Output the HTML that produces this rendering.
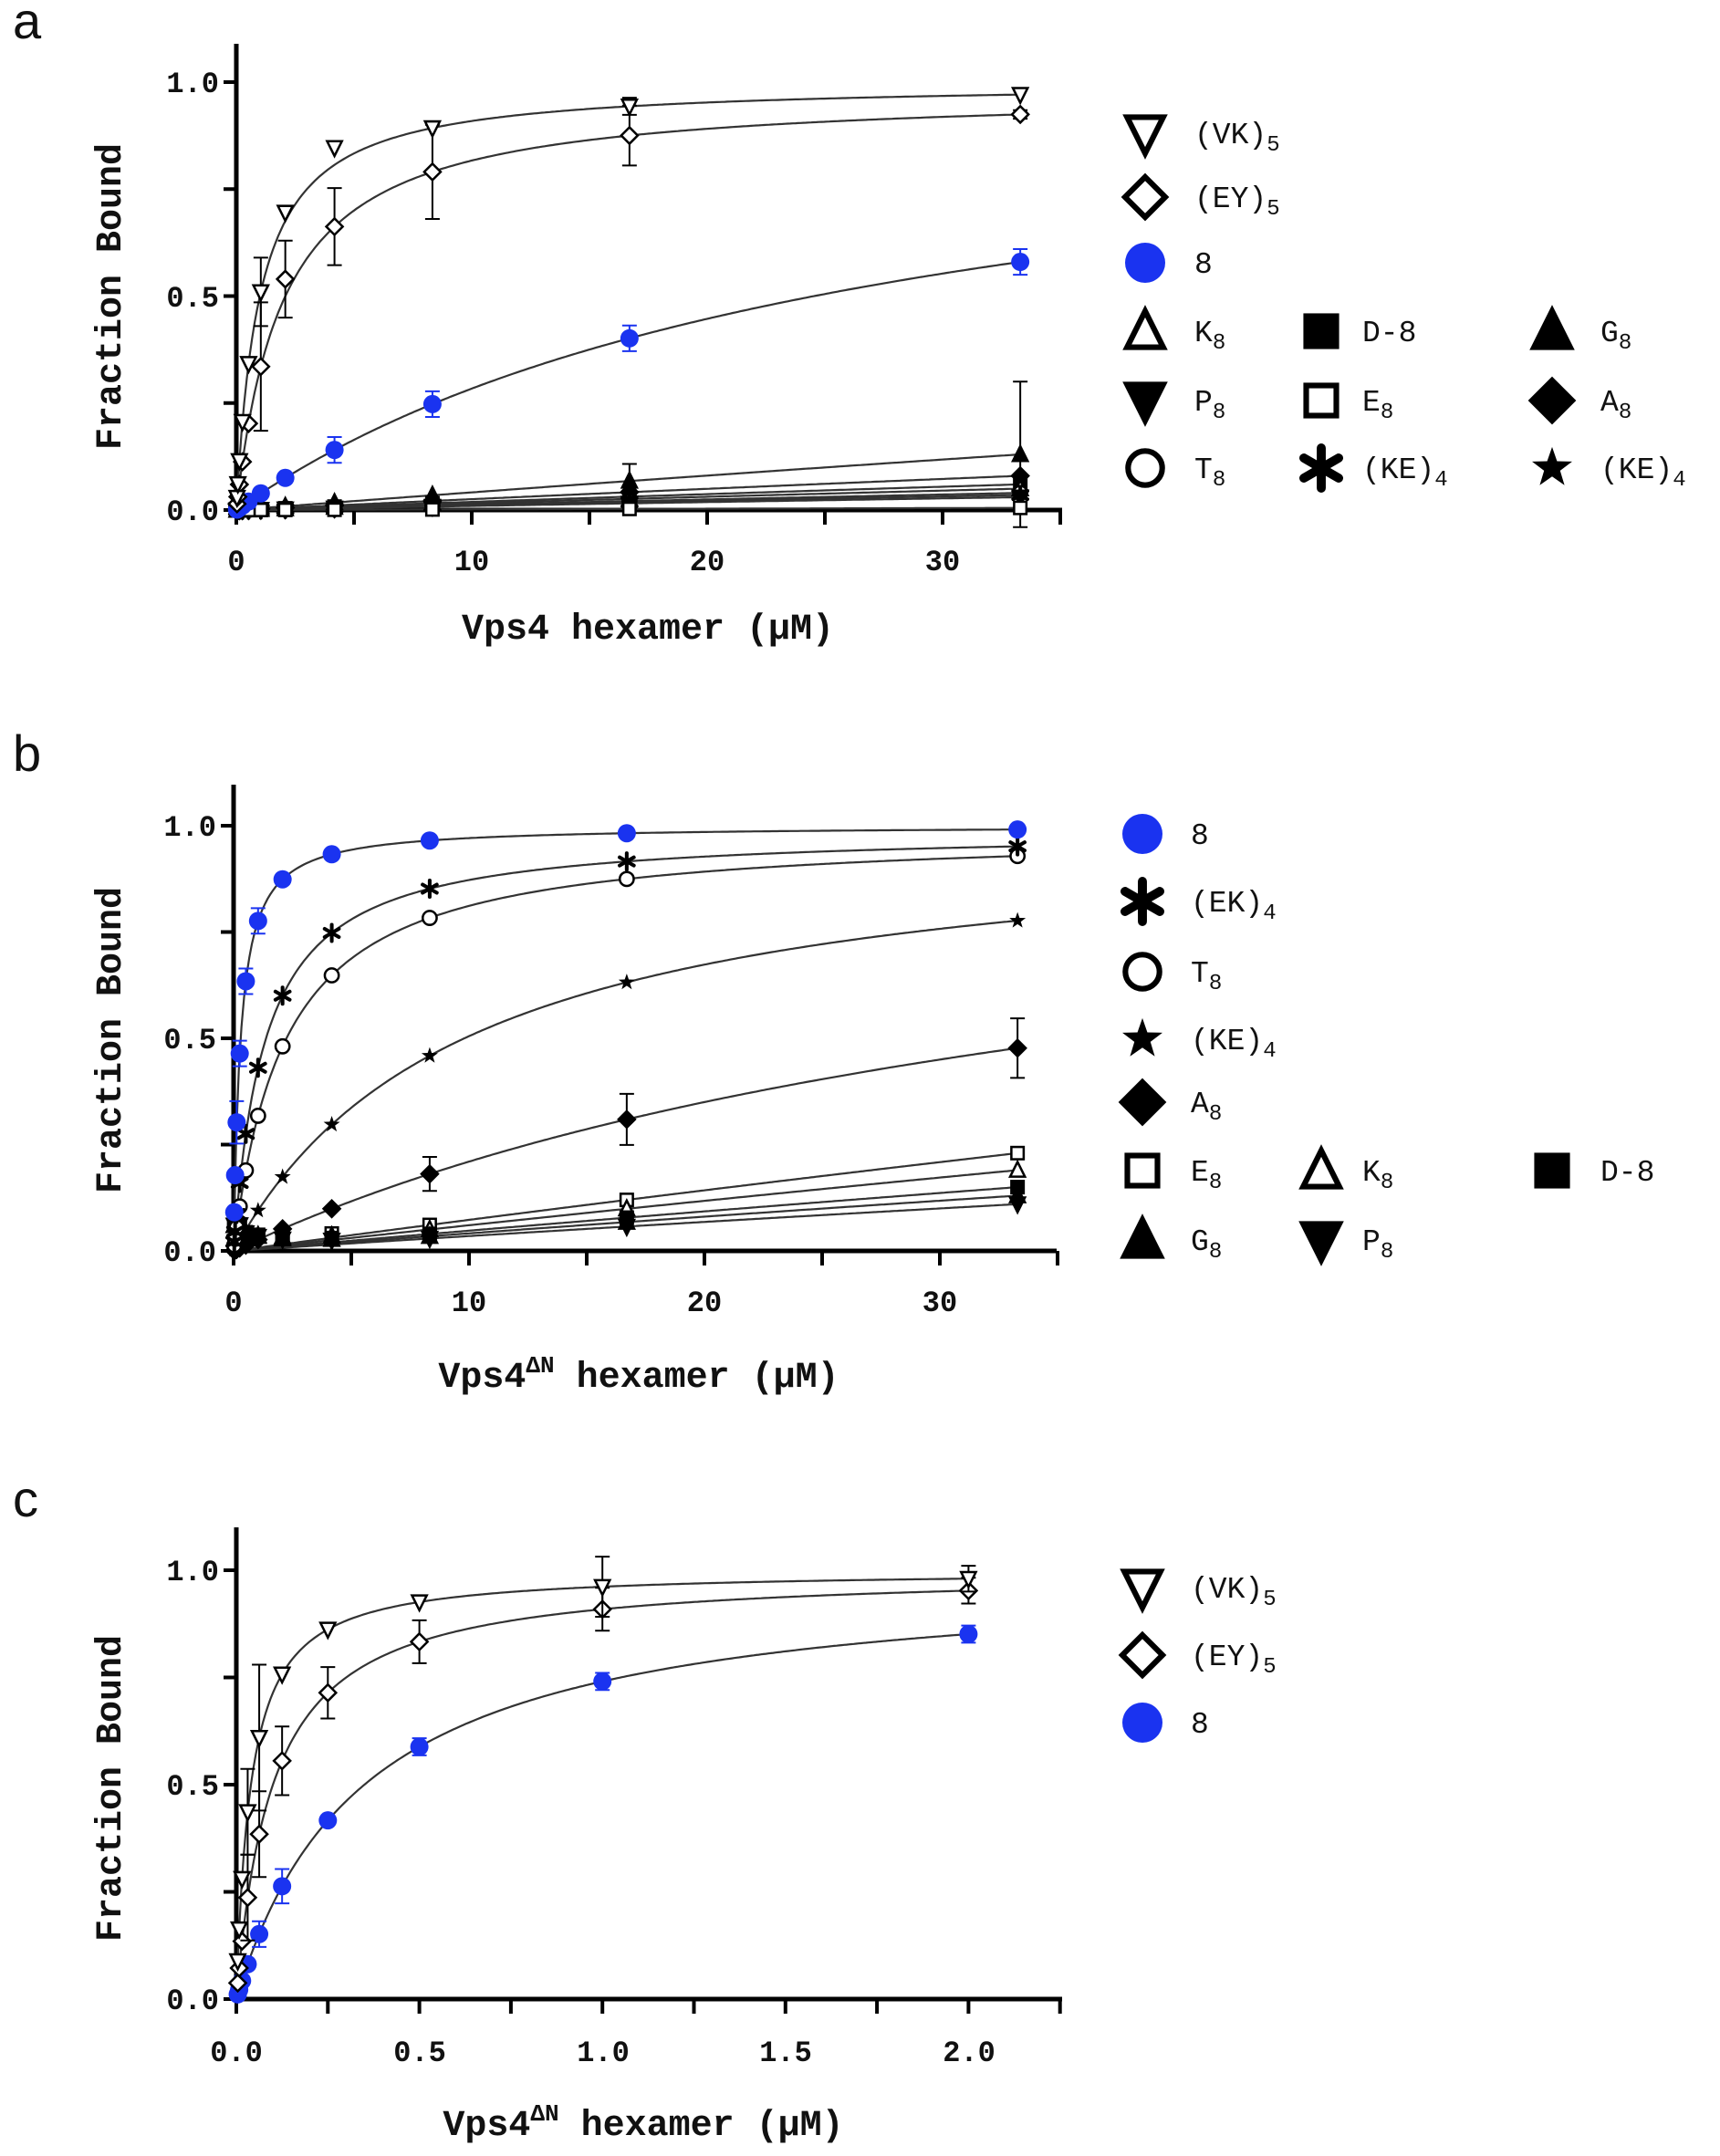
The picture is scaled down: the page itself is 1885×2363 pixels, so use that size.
<!DOCTYPE html>
<html><head><meta charset="utf-8"><style>
body{margin:0;background:#fff}
svg{display:block}
.t{font-family:"Liberation Mono",monospace;font-size:33px;fill:#111}
.tk{font-family:"Liberation Mono",monospace;font-size:32px;font-weight:bold;fill:#111}
.ti{font-family:"Liberation Mono",monospace;font-size:40px;font-weight:bold;fill:#111}
.pl{font-family:"Liberation Sans",sans-serif;font-size:56px;fill:#111}
</style></head><body>
<svg id="s" width="1885" height="2363" viewBox="0 0 1885 2363" xmlns="http://www.w3.org/2000/svg">
<rect width="1885" height="2363" fill="#fff"/>
<text class="pl" x="14" y="42">a</text>
<text class="pl" x="14" y="845">b</text>
<text class="pl" x="14" y="1662">c</text>
<text class="tk" x="240" y="101" text-anchor="end">1.0</text>
<text class="tk" x="240" y="336" text-anchor="end">0.5</text>
<text class="tk" x="240" y="570" text-anchor="end">0.0</text>
<text class="tk" x="259" y="625" text-anchor="middle">0</text>
<text class="tk" x="517" y="625" text-anchor="middle">10</text>
<text class="tk" x="775" y="625" text-anchor="middle">20</text>
<text class="tk" x="1033" y="625" text-anchor="middle">30</text>
<text class="ti" x="710" y="700" text-anchor="middle">Vps4 hexamer (μM)</text>
<text class="ti" transform="translate(132,325) rotate(-90)" text-anchor="middle">Fraction Bound</text>
<text class="tk" x="237" y="916" text-anchor="end">1.0</text>
<text class="tk" x="237" y="1149" text-anchor="end">0.5</text>
<text class="tk" x="237" y="1382" text-anchor="end">0.0</text>
<text class="tk" x="256" y="1437" text-anchor="middle">0</text>
<text class="tk" x="514" y="1437" text-anchor="middle">10</text>
<text class="tk" x="772" y="1437" text-anchor="middle">20</text>
<text class="tk" x="1030" y="1437" text-anchor="middle">30</text>
<text class="ti" x="700" y="1520" text-anchor="middle">Vps4<tspan font-size="26" dy="-16">ΔN</tspan><tspan dy="16"> hexamer (μM)</tspan></text>
<text class="ti" transform="translate(132,1140) rotate(-90)" text-anchor="middle">Fraction Bound</text>
<text class="tk" x="240" y="1732" text-anchor="end">1.0</text>
<text class="tk" x="240" y="1967" text-anchor="end">0.5</text>
<text class="tk" x="240" y="2202" text-anchor="end">0.0</text>
<text class="tk" x="259" y="2259" text-anchor="middle">0.0</text>
<text class="tk" x="460" y="2259" text-anchor="middle">0.5</text>
<text class="tk" x="661" y="2259" text-anchor="middle">1.0</text>
<text class="tk" x="861" y="2259" text-anchor="middle">1.5</text>
<text class="tk" x="1062" y="2259" text-anchor="middle">2.0</text>
<text class="ti" x="705" y="2340" text-anchor="middle">Vps4<tspan font-size="26" dy="-16">ΔN</tspan><tspan dy="16"> hexamer (μM)</tspan></text>
<text class="ti" transform="translate(132,1960) rotate(-90)" text-anchor="middle">Fraction Bound</text>
<g class="t">
<text x="1309" y="157">(VK)<tspan font-size="24" dy="8">5</tspan></text>
<text x="1309" y="227">(EY)<tspan font-size="24" dy="8">5</tspan></text>
<text x="1309" y="299">8</text>
<text x="1309" y="374">K<tspan font-size="24" dy="8">8</tspan></text>
<text x="1309" y="450">P<tspan font-size="24" dy="8">8</tspan></text>
<text x="1309" y="524">T<tspan font-size="24" dy="8">8</tspan></text>
<text x="1493" y="374">D-8</text>
<text x="1493" y="450">E<tspan font-size="24" dy="8">8</tspan></text>
<text x="1493" y="524">(KE)<tspan font-size="24" dy="8">4</tspan></text>
<text x="1754" y="374">G<tspan font-size="24" dy="8">8</tspan></text>
<text x="1754" y="450">A<tspan font-size="24" dy="8">8</tspan></text>
<text x="1754" y="524">(KE)<tspan font-size="24" dy="8">4</tspan></text>
<text x="1305" y="925">8</text>
<text x="1305" y="999">(EK)<tspan font-size="24" dy="8">4</tspan></text>
<text x="1305" y="1076">T<tspan font-size="24" dy="8">8</tspan></text>
<text x="1305" y="1150">(KE)<tspan font-size="24" dy="8">4</tspan></text>
<text x="1305" y="1219">A<tspan font-size="24" dy="8">8</tspan></text>
<text x="1305" y="1294">E<tspan font-size="24" dy="8">8</tspan></text>
<text x="1305" y="1370">G<tspan font-size="24" dy="8">8</tspan></text>
<text x="1493" y="1294">K<tspan font-size="24" dy="8">8</tspan></text>
<text x="1493" y="1370">P<tspan font-size="24" dy="8">8</tspan></text>
<text x="1754" y="1294">D-8</text>
<text x="1305" y="1751">(VK)<tspan font-size="24" dy="8">5</tspan></text>
<text x="1305" y="1825">(EY)<tspan font-size="24" dy="8">5</tspan></text>
<text x="1305" y="1899">8</text>
</g>
<g id="g"></g>
</svg>
<script>
var NS="http://www.w3.org/2000/svg",G=document.getElementById("g");
function el(t,a){var e=document.createElementNS(NS,t);for(var k in a)e.setAttribute(k,a[k]);G.appendChild(e);return e;}
function marker(type,cx,cy,r){
 var sw=Math.max(2.5,r*0.28);
 var blk="#000";
 switch(type){
 case "dot":el("circle",{cx:cx,cy:cy,r:r,fill:"#1a33f0"});break;
 case "circO":el("circle",{cx:cx,cy:cy,r:r*0.85,fill:"#fff",stroke:blk,"stroke-width":sw});break;
 case "triU":case "triUf":el("polygon",{points:(cx)+","+(cy-r)+" "+(cx+r*0.9)+","+(cy+r*0.8)+" "+(cx-r*0.9)+","+(cy+r*0.8),fill:type=="triUf"?blk:"#fff",stroke:blk,"stroke-width":sw});break;
 case "triD":case "triDf":el("polygon",{points:(cx)+","+(cy+r)+" "+(cx+r*0.9)+","+(cy-r*0.8)+" "+(cx-r*0.9)+","+(cy-r*0.8),fill:type=="triDf"?blk:"#fff",stroke:blk,"stroke-width":sw});break;
 case "sq":case "sqf":el("rect",{x:cx-r*0.75,y:cy-r*0.75,width:r*1.5,height:r*1.5,fill:type=="sqf"?blk:"#fff",stroke:blk,"stroke-width":sw});break;
 case "dia":case "diaf":el("polygon",{points:cx+","+(cy-r)+" "+(cx+r)+","+cy+" "+cx+","+(cy+r)+" "+(cx-r)+","+cy,fill:type=="diaf"?blk:"#fff",stroke:blk,"stroke-width":sw});break;
 case "ast":for(var i=0;i<3;i++){var a=i*Math.PI/3+Math.PI/2;el("line",{x1:cx-r*Math.cos(a),y1:cy-r*Math.sin(a),x2:cx+r*Math.cos(a),y2:cy+r*Math.sin(a),stroke:blk,"stroke-width":r*0.45,"stroke-linecap":"round"});}break;
 case "star":var p=[];for(var i=0;i<10;i++){var a=-Math.PI/2+i*Math.PI/5,rr=i%2?r*0.42:r*1.05;p.push((cx+rr*Math.cos(a))+","+(cy+rr*Math.sin(a)));}el("polygon",{points:p.join(" "),fill:blk});break;
 }
}
function axes(P){
 var L=P.x0,B=P.y0;
 el("line",{x1:L,y1:P.top,x2:L,y2:B+3,stroke:"#000","stroke-width":5});
 el("line",{x1:L-3,y1:B,x2:P.right,y2:B,stroke:"#000","stroke-width":5});
 [0,0.25,0.5,0.75,1].forEach(function(v){var y=B-v*(B-P.y1);el("line",{x1:L-14,y1:y,x2:L,y2:y,stroke:"#000","stroke-width":4});});
 P.xt.forEach(function(v){var x=L+v*P.sx;el("line",{x1:x,y1:B,x2:x,y2:B+16,stroke:"#000","stroke-width":4});});
}
function draw(P){
 axes(P);
 var X=function(v){return P.x0+v*P.sx},Y=function(v){return P.y0-v*(P.y0-P.y1)};
 P.series.forEach(function(s){
  var d="";for(var i=0;i<=300;i++){var x=P.xmax*i/300,y=s.B*x/(s.K+x);d+=(i?"L":"M")+X(x).toFixed(1)+","+Y(y).toFixed(1);}
  el("path",{d:d,fill:"none",stroke:"#333","stroke-width":2.2});
 });
 P.series.forEach(function(s){
  P.xs.forEach(function(x,i){var y=s.B*x/(s.K+x)+(s.n?s.n[i]||0:0);
   if(s.e&&s.e[i]){var c=s.m=="dot"?"#1a33f0":"#000";el("line",{x1:X(x),y1:Y(y-s.e[i]),x2:X(x),y2:Y(y+s.e[i]),stroke:c,"stroke-width":2});
    [y-s.e[i],y+s.e[i]].forEach(function(q){el("line",{x1:X(x)-8,y1:Y(q),x2:X(x)+8,y2:Y(q),stroke:c,"stroke-width":2});});}
   marker(s.m,X(x),Y(y),s.m=="dot"?10:9);});
 });
}
var xa=[0.03,0.065,0.13,0.26,0.52,1.04,2.08,4.17,8.33,16.7,33.3];
function lin(m,end,e){var K=400,B=end*(K+33.3)/33.3;return {m:m,K:K,B:B,e:e};}
draw({x0:259,y0:559,y1:90,sx:25.8,top:48,right:1164,xmax:33.3,xt:[0,5,10,15,20,25,30,35],xs:xa,series:[
 lin("triUf",0.13,[0,0,0,0,0,0,0,0,0,0.04,0.17]),lin("diaf",0.08),lin("sqf",0.06),lin("triU",0.05),lin("circO",0.04),lin("ast",0.035),lin("triDf",0.03),lin("sq",0.005),
 {m:"dot",K:27,B:1.05,e:[0,0,0,0,0,0,0,0.03,0.03,0.03,0.03]},
 {m:"dia",K:2,B:0.98,e:[0,0,0,0,0,0.15,0.09,0.09,0.11,0.07,0.01],n:[0,0,0,0,0,0,0.04,0,0,0,0]},
 {m:"triD",K:1.0,B:1.0,e:[0,0,0,0,0,0.08,0,0,0,0.02,0],n:[0,0,0,0,0,0,0.02,0.04,0,0,0]}
]});
function lin2(m,end,e){var K=400,B=end*(K+33.3)/33.3;return {m:m,K:K,B:B,e:e,n:[0.06,0.06,0.06,0.06,0.04,0.03,0.02,0.01,0,0,0]};}
draw({x0:256,y0:1371,y1:905,sx:25.8,top:860,right:1158,xmax:33.3,xt:[0,5,10,15,20,25,30,35],xs:xa,series:[
 lin2("sq",0.23),lin2("triU",0.19),lin2("sqf",0.15),lin2("triUf",0.13),lin2("triDf",0.11),{m:"diaf",K:40,B:1.05,e:[0,0,0,0,0,0,0,0,0.04,0.06,0.07]},
 {m:"star",K:10,B:1.01},{m:"circO",K:2.2,B:0.99},{m:"ast",K:1.35,B:0.99},
 {m:"dot",K:0.3,B:1.0,e:[0,0,0.05,0.03,0.03,0.03,0.01,0,0,0,0]}
]});
var xc=[0.0039,0.0078,0.0156,0.031,0.0625,0.125,0.25,0.5,1,2];
draw({x0:259,y0:2191,y1:1721,sx:401.2,top:1674,right:1164,xmax:2,xt:[0,0.25,0.5,0.75,1,1.25,1.5,1.75,2,2.25],xs:xc,series:[
 {m:"dot",K:0.35,B:1.0,e:[0,0,0,0,0.03,0.04,0,0.02,0.02,0.02]},
 {m:"dia",K:0.1,B:1.0,e:[0,0,0,0.1,0.1,0.08,0.06,0.05,0.05,0.03]},
 {m:"triD",K:0.04,B:1.0,e:[0,0,0,0.1,0.17,0,0,0,0.07,0.03]}
]});
[["triD",1255,146],["dia",1255,216],["dot",1255,288],["triU",1255,363],["triDf",1255,439],["circO",1255,513],["sqf",1448,363],["sq",1448,439],["ast",1448,513],["triUf",1701,363],["diaf",1701,439],["star",1701,513],
 ["dot",1252,914],["ast",1252,988],["circO",1252,1065],["star",1252,1139],["diaf",1252,1208],["sq",1252,1283],["triUf",1252,1359],["triU",1448,1283],["triDf",1448,1359],["sqf",1701,1283],
 ["triD",1252,1740],["dia",1252,1814],["dot",1252,1888]].forEach(function(a){marker(a[0],a[1],a[2],22);});
</script>
</body></html>
